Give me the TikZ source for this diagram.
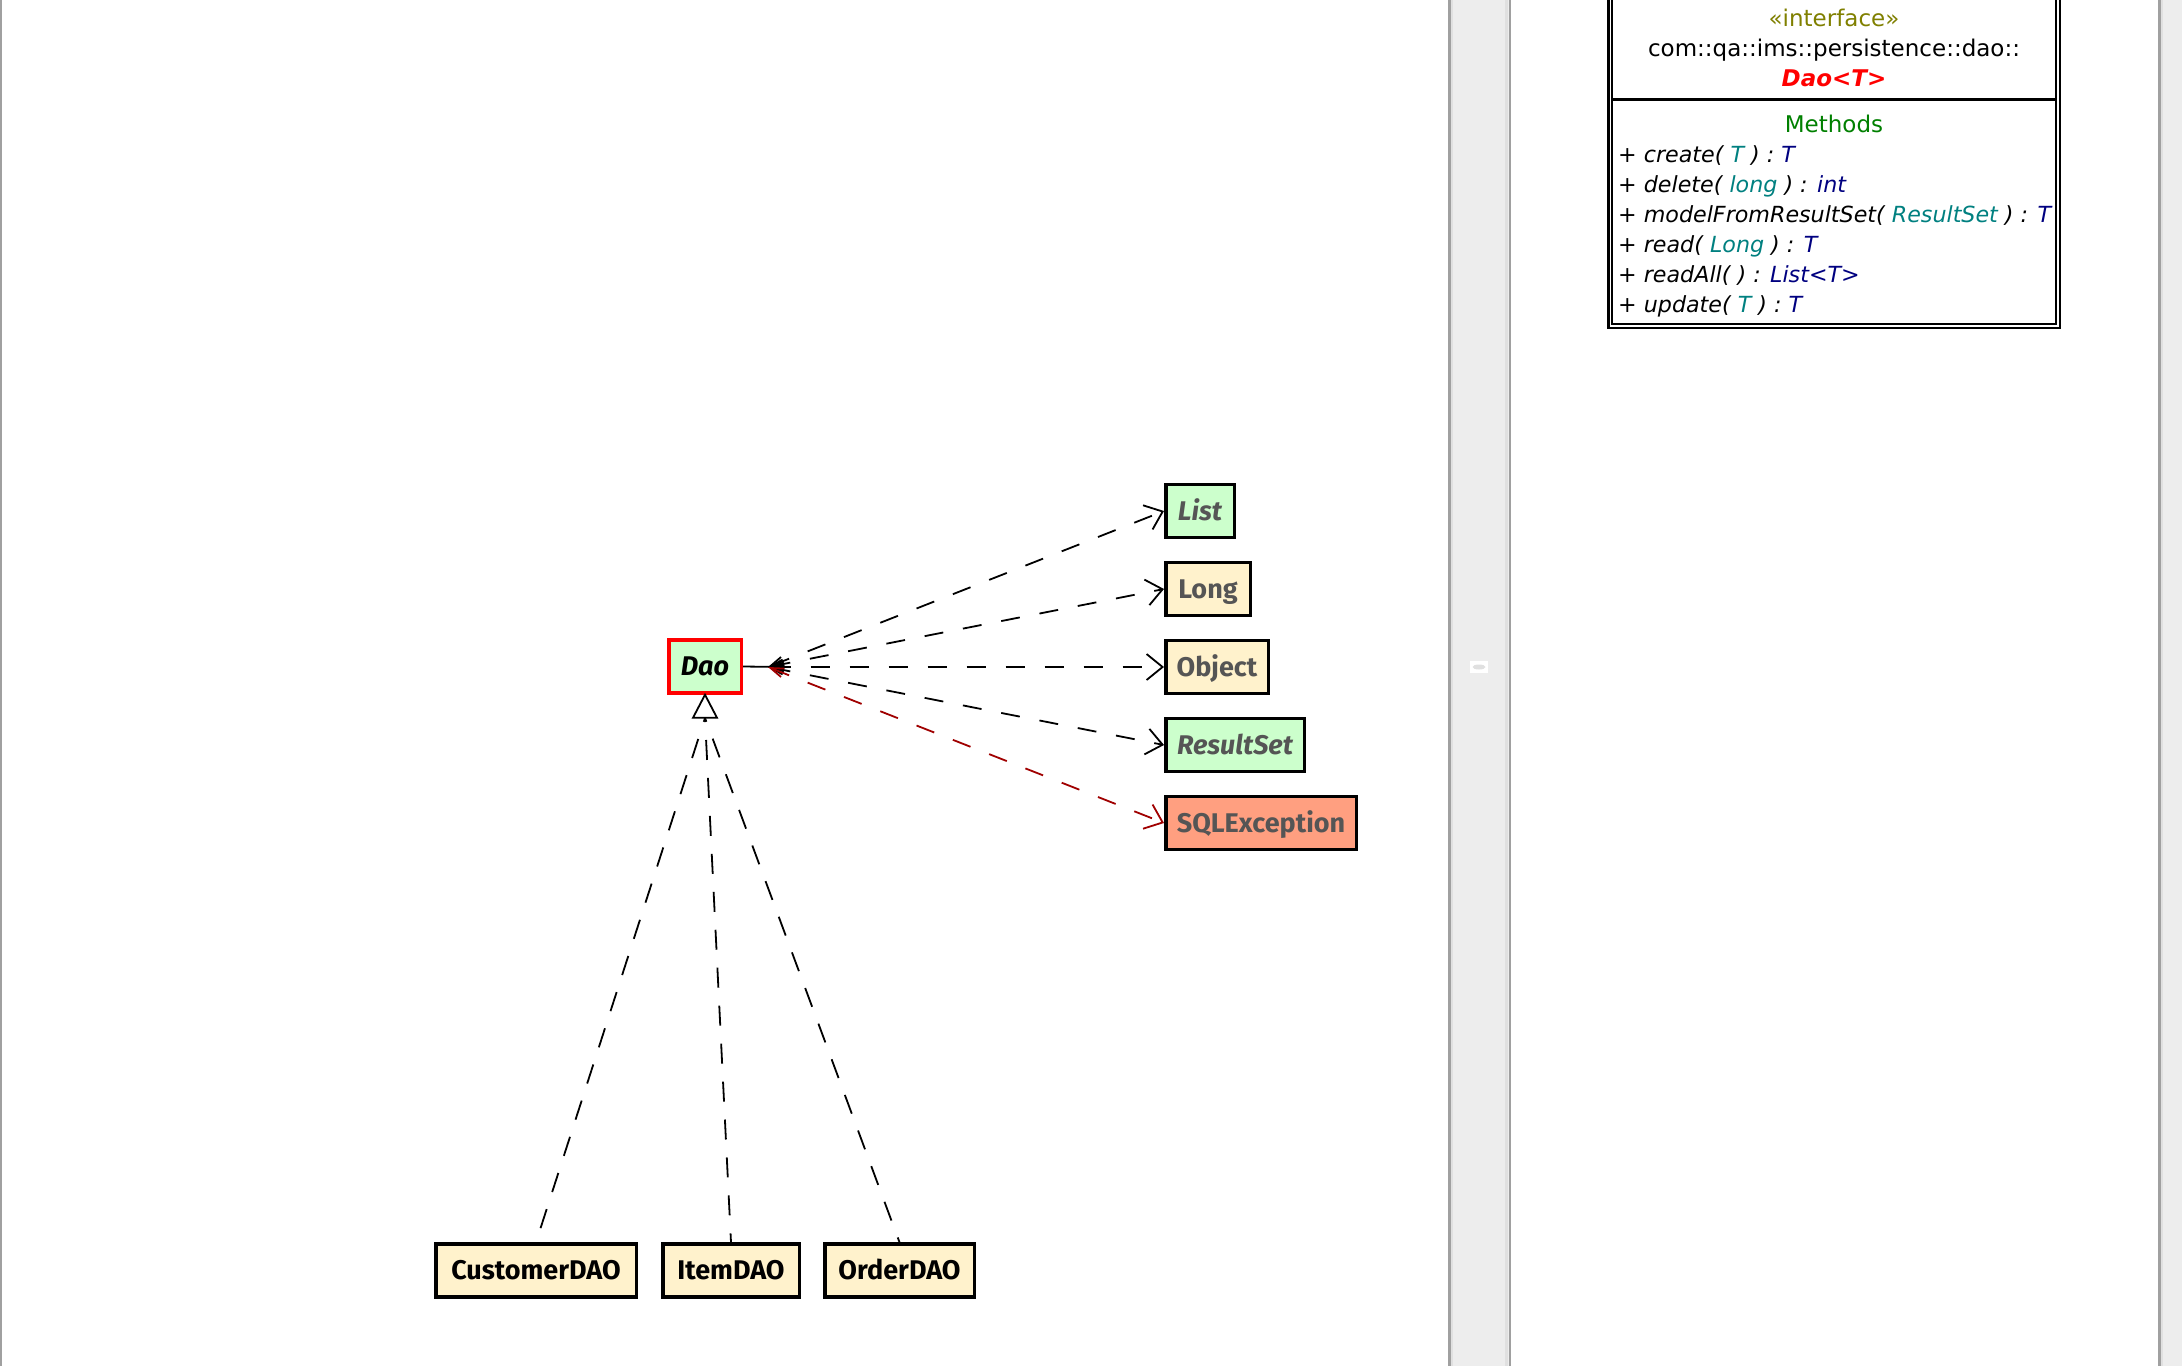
\documentclass[tikz,border=0pt]{standalone}
\usepackage{fontspec}
\setmainfont{Fira Sans}
\newfontfamily\panelfamily{DejaVu Sans}
\usetikzlibrary{arrows.meta}

\definecolor{paneline}{HTML}{A0A0A0}
\definecolor{panelight}{HTML}{E0E0E0}
\definecolor{panefill}{HTML}{EDEDED}
\definecolor{ifacegreen}{HTML}{CCFFCC}
\definecolor{classyellow}{HTML}{FFF2CC}
\definecolor{excsalmon}{HTML}{FF9F80}
\definecolor{labelgray}{HTML}{555555}
\definecolor{depred}{HTML}{A00000}
\definecolor{stereoolive}{HTML}{808000}
\definecolor{methgreen}{HTML}{008000}
\definecolor{paramteal}{HTML}{008080}
\definecolor{retnavy}{HTML}{000080}

\newcommand{\boxfont}{\fontsize{27}{30}\selectfont\bfseries}
\newcommand{\panelfont}{\panelfamily\fontsize{23}{30}\selectfont}
\newcommand{\methodfont}{\panelfamily\fontsize{22.2}{30}\selectfont\itshape}
\newcommand{\ptype}[1]{\textcolor{paramteal}{#1}}
\newcommand{\rtype}[1]{\textcolor{retnavy}{#1}}

\begin{document}
\begin{tikzpicture}[x=1pt,y=-1pt,
  box/.style={draw=black, line width=3.5pt, inner sep=0pt, minimum height=53pt,
    text height=18.6pt, text depth=0pt, font=\boxfont},
  iface/.style={box, fill=ifacegreen},
  cls/.style={box, fill=classyellow},
  dep/.style={line width=1.8pt, dash pattern=on 19pt off 20pt,
    {Straight Barb[length=13pt,width=9pt]}-{Straight Barb[length=16pt,width=26pt]}},
  realize/.style={line width=1.8pt, dash pattern=on 20pt off 18pt, dash phase=16pt},
  panelline/.style={anchor=base west, inner sep=0pt, font=\methodfont},
  paneltitle/.style={anchor=base, inner sep=0pt, font=\panelfont}
]
\useasboundingbox (0,0) rectangle (2182,1366);

% diagram canvas and splitter bars
\fill[white] (0,0) rectangle (2182,1366);
\fill[paneline] (0,0) rectangle (2,1366);
\fill[panefill] (1448,0) rectangle (1511,1366);
\fill[paneline] (1448,0) rectangle (1450.5,1366);
\fill[panelight] (1450.5,0) rectangle (1453,1366);
\fill[panelight] (1505,0) rectangle (1508,1366);
\fill[paneline] (1508.5,0) rectangle (1511,1366);
\fill[panefill] (2158,0) rectangle (2182,1366);
\fill[paneline] (2158,0) rectangle (2160.5,1366);
\fill[panelight] (2160.5,0) rectangle (2163,1366);
\fill[white] (1470,661) rectangle (1488,673);
\fill[panelight] (1479,667) ellipse (6.5 and 2.5);

% class nodes
\node[iface, draw=red, minimum width=72.5pt] (dao) at (705,666.5) {\itshape Dao};
\node[iface, minimum width=68.5pt, text=labelgray] (list) at (1200,511) {\itshape List};
\node[cls, minimum width=84.5pt, text=labelgray] (long) at (1208,589) {Long};
\node[cls, minimum width=102.5pt, text=labelgray] (object) at (1217,667) {Object};
\node[iface, minimum width=138.5pt, text=labelgray] (resultset) at (1235,745) {\itshape ResultSet};
\node[box, fill=excsalmon, minimum width=190.5pt, text=labelgray] (sqlexc) at (1261,823) {SQLException};
\node[cls, minimum width=200.5pt] (cust) at (536,1270.5) {CustomerDAO};
\node[cls, minimum width=136.5pt] (item) at (731,1270.5) {ItemDAO};
\node[cls, minimum width=149.5pt] (order) at (899.5,1270.5) {OrderDAO};

% dependencies of Dao
\coordinate (hub) at (768,667);
\coordinate (hubend) at (785,667);
\draw[line width=1.8pt] (dao.east) -- (hubend);
\draw[dep] (hub) -- (list.west);
\draw[dep] (hub) -- (long.west);
\draw[dep] (hub) -- (object.west);
\draw[dep] (hub) -- (resultset.west);
\draw[dep, depred] (hub) -- (sqlexc.west);

% realizations of Dao
\coordinate (tribase) at (705,718);
\draw[realize] (tribase) -- (cust.north);
\draw[realize] (tribase) -- (item.north);
\draw[realize] (tribase) -- (order.north);
\draw[line width=1.8pt, fill=white, line join=miter] (dao.south) -- ++(-12,23) -- ++(24,0) -- cycle;

% details panel: interface compartment
\draw[line width=2.5pt] (1608.5,-5) -- (1608.5,328) -- (2060,328) -- (2060,-5);
\draw[line width=2pt] (1612,-5) -- (1612,324) -- (2056,324) -- (2056,-5);
\draw[line width=3pt] (1612,99.5) -- (2056,99.5);

\node[paneltitle, text=stereoolive] (stereo) at (1834,26) {«interface»};
\node[paneltitle] (pkg) at (1834,56) {com::qa::ims::persistence::dao::};
\node[paneltitle, text=red, font=\panelfont\bfseries\itshape] (iname) at (1834,86) {Dao<T>};
\node[paneltitle, text=methgreen] (mhead) at (1834,132) {Methods};
\node[panelline] (m1) at (1618,162) {+ create( \ptype{T} ) : \rtype{T}};
\node[panelline] (m2) at (1618,192) {+ delete( \ptype{long} ) : \rtype{int}};
\node[panelline] (m3) at (1618,222) {+ modelFromResultSet( \ptype{ResultSet} ) : \rtype{T}};
\node[panelline] (m4) at (1618,252) {+ read( \ptype{Long} ) : \rtype{T}};
\node[panelline] (m5) at (1618,282) {+ readAll( ) : \rtype{List<T>}};
\node[panelline] (m6) at (1618,312) {+ update( \ptype{T} ) : \rtype{T}};
\end{tikzpicture}
\end{document}
